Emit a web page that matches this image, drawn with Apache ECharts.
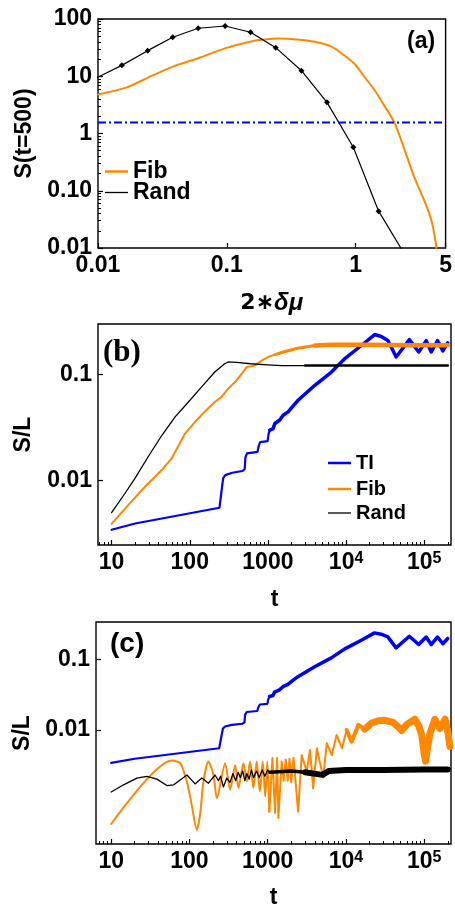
<!DOCTYPE html>
<html>
<head>
<meta charset="utf-8">
<style>
  html, body { margin: 0; padding: 0; background: #fff; }
  #chart { width: 455px; height: 910px; }
</style>
<script src="https://cdn.jsdelivr.net/npm/echarts@6.0.0/dist/echarts.min.js"></script>
</head>
<body>
<div id="chart"></div>
<script>
// ---- panel (a): S(t=500) vs 2*delta mu ----
const muTicks = [0.01, 0.1, 1, 5];
const muTickLabels = ['0.01', '0.1', '1', '5'];
const sTicks = [0.01, 0.1, 1, 10, 100];
const sTickLabels = ['0.01', '0.10', '1', '10', '100'];
const tiThreshold = 1.55;
const fibA = [[0.01, 4.8], [0.0167, 6.4], [0.0238, 9.2], [0.0382, 14.7], [0.0612, 21], [0.098, 31], [0.157, 41],
  [0.2, 44], [0.252, 45.5], [0.35, 44], [0.484, 40], [0.65, 33], [0.82, 23], [1.0, 15.7], [1.17, 9.8], [1.4, 5.8],
  [1.57, 3.86], [2.0, 1.55], [2.38, 0.55], [2.84, 0.178], [3.49, 0.06], [3.93, 0.027], [4.25, 0.01]];
const randA = [[0.0096, 9.2], [0.0153, 15.5], [0.0243, 28], [0.038, 48], [0.06, 69], [0.097, 75.5], [0.153, 58.6],
  [0.24, 31.6], [0.38, 12.5], [0.6, 3.5], [0.96, 0.575], [1.51, 0.044], [2.4, 0.0078]];

// ---- panels (b), (c): S/L vs t ----
const tTicks = [10, 100, 1000, 1e4, 1e5];
const tTickLabels = ['10', '100', '1000', '10{sup|4}', '10{sup|5}'];
const slTicks = [0.01, 0.1];
const slTickLabels = ['0.01', '0.1'];

// TI is the same curve in (b) and (c)
const tiData = [[10, 0.0034], [20, 0.0039], [240, 0.0055], [250, 0.0056], [258, 0.0085], [268, 0.0105], [285, 0.0112],
  [350, 0.0118], [473, 0.01225], [505, 0.0128], [515, 0.0165], [540, 0.018], [736, 0.0186], [760, 0.021], [795, 0.023],
  [990, 0.0235], [1020, 0.0275], [1057, 0.0299], [1167, 0.0309], [1225, 0.0345], [1418, 0.0372], [1566, 0.0413],
  [1813, 0.0445], [2000, 0.0485], [2432, 0.0573], [3980, 0.0794], [6500, 0.106], [9550, 0.141], [15700, 0.189],
  [23200, 0.24], [28200, 0.23], [34300, 0.211], [43700, 0.147], [64600, 0.215], [85000, 0.164], [106000, 0.21],
  [123000, 0.164], [148000, 0.21], [173000, 0.168], [200000, 0.2]];

const fibB = [[10, 0.00387], [16.4, 0.00585], [26.8, 0.0087], [43.8, 0.0125], [58.6, 0.0161], [87, 0.0277], [117, 0.0358],
  [155, 0.0445], [209, 0.0552], [255, 0.0616], [310, 0.0738], [380, 0.0852], [460, 0.102], [535, 0.118], [620, 0.12],
  [680, 0.122], [830, 0.136], [1000, 0.147], [1230, 0.155], [1620, 0.165], [2400, 0.178], [3980, 0.189],
  [6500, 0.192], [20000, 0.192], [60000, 0.19], [200000, 0.19]];
const randB = [[10, 0.00495], [14.8, 0.0075], [20, 0.0105], [29.5, 0.0168], [44, 0.0267], [65, 0.0399], [96, 0.0552],
  [142, 0.0766], [209, 0.106], [280, 0.127], [310, 0.132], [400, 0.131], [600, 0.127], [1000, 0.124], [1500, 0.122],
  [3000, 0.122], [20000, 0.122], [200000, 0.122]];

const fibC = [[10, 0.00046], [59.5, 0.00367], [76, 0.0034], [92.7, 0.00185], [107, 0.00086], [124, 0.00038], [137, 0.00063],
  [151, 0.00185], [175, 0.00355], [203, 0.00229], [224, 0.00107], [286, 0.00337], [331, 0.00141], [384, 0.00316],
  [423, 0.0015], [490, 0.00337], [540, 0.00185], [596, 0.00355], [656, 0.0015], [724, 0.00355], [795, 0.00133],
  [864, 0.00355], [930, 0.00113], [990, 0.00355], [1050, 0.00069], [1150, 0.004], [1240, 0.00066], [1320, 0.004],
  [1370, 0.00056], [1510, 0.00355], [1600, 0.0019], [1700, 0.0038], [1800, 0.0019], [1900, 0.0039], [2000, 0.0018],
  [2140, 0.004], [2450, 0.00069], [2720, 0.0044], [3150, 0.00256], [3470, 0.0052], [3810, 0.00148], [4250, 0.0055],
  [5130, 0.0021], [5690, 0.0065], [6600, 0.0044], [7600, 0.0085], [8900, 0.0055], [10200, 0.01], [11800, 0.0068],
  [14400, 0.0118], [17400, 0.0103], [21200, 0.0125], [26000, 0.0135], [31600, 0.0137], [40000, 0.0128],
  [47000, 0.011], [51600, 0.0098], [60000, 0.012], [76000, 0.0142], [85000, 0.0115], [93000, 0.0085],
  [100000, 0.0045], [104000, 0.0036], [110000, 0.0055], [118000, 0.0088], [137000, 0.0142], [158000, 0.0105],
  [185000, 0.0142], [200000, 0.0095], [213000, 0.0058]];
const randC = [[10, 0.00131], [14.4, 0.00166], [21.3, 0.00207], [28.6, 0.00219], [38.4, 0.002], [51.5, 0.00162],
  [63, 0.00166], [93, 0.00229], [118, 0.00171], [144, 0.00207], [175, 0.00175], [212, 0.00229], [235, 0.0019],
  [250, 0.0022], [272, 0.00155], [300, 0.00207], [330, 0.0018], [360, 0.0024], [390, 0.0019], [420, 0.0025],
  [446, 0.0021], [480, 0.0026], [510, 0.0019], [540, 0.0024], [580, 0.002], [620, 0.0027], [660, 0.0021],
  [720, 0.0026], [780, 0.0021], [850, 0.0027], [920, 0.0022], [1000, 0.0027], [1070, 0.0025], [2000, 0.0026],
  [3000, 0.0025], [5000, 0.0023], [6000, 0.0026], [10000, 0.0027], [30000, 0.0027], [100000, 0.00275], [200000, 0.00275]];

const FONT = 'Liberation Sans';
const ORANGE = '#ff8800';
const BLUE = '#0000ff';

// 2..9 x 10^k between lo and hi, for the small log ticks
function minorTicks(lo, hi) {
  const out = [];
  for (let e = Math.floor(Math.log10(lo)); e <= Math.ceil(Math.log10(hi)); e++) {
    for (let m = 2; m <= 9; m++) {
      const v = +(m * Math.pow(10, e)).toPrecision(6);
      if (v > lo && v < hi) out.push(v);
    }
  }
  return out;
}
const upTo = (arr, t) => arr.filter(p => p[0] <= t);
const between = (arr, a, b) => arr.filter(p => p[0] >= a && p[0] <= b);
const from = (arr, t) => arr.filter(p => p[0] >= t);

const labelStyle = { fontFamily: FONT, fontWeight: 'bold', fontSize: 23, color: '#000' };
const nameStyle = { fontFamily: FONT, fontWeight: 'bold', fontSize: 23, color: '#000' };

function lookup(ticks, labels) {
  return v => {
    const i = ticks.findIndex(t => Math.abs(Math.log10(t) - Math.log10(v)) < 1e-6);
    return i < 0 ? '' : labels[i];
  };
}

function mainAxis(grid, min, max, ticks, labels, extra) {
  return Object.assign({
    type: 'log', logBase: 10, gridIndex: grid, min: min, max: max,
    axisLine: { show: false },
    splitLine: { show: false },
    axisTick: { inside: true, length: 5, customValues: ticks, lineStyle: { color: '#000', width: 1.2 } },
    axisLabel: Object.assign({ customValues: ticks, formatter: lookup(ticks, labels), margin: 6,
      rich: { sup: { fontFamily: FONT, fontWeight: 'bold', fontSize: 16, color: '#000', verticalAlign: 'top' } } }, labelStyle),
    nameLocation: 'middle',
    nameTextStyle: nameStyle
  }, extra || {});
}
function minorAxis(grid, min, max, pos) {
  return {
    type: 'log', logBase: 10, gridIndex: grid, min: min, max: max, position: pos,
    axisLine: { show: false }, splitLine: { show: false }, axisLabel: { show: false },
    axisTick: { inside: true, length: 3, customValues: minorTicks(min, max), lineStyle: { color: '#000', width: 1 } }
  };
}

function line(name, data, xi, yi, color, width, extra) {
  return Object.assign({
    name: name, type: 'line', data: data, xAxisIndex: xi, yAxisIndex: yi, color: color,
    symbol: 'none', showSymbol: false, clip: true, silent: true,
    lineStyle: { color: color, width: width, cap: 'round', join: 'round' }
  }, extra || {});
}

function legendItem(name, left, top, h, size, lh) {
  return {
    data: [name], left: left, top: top, padding: 0, itemWidth: 23, itemHeight: h, icon: 'rect',
    selectedMode: false,
    textStyle: { fontFamily: FONT, fontWeight: 'bold', fontSize: size, color: '#000', lineHeight: lh }
  };
}

const tMin = [6.7, 6.4], tMax = 2.2e5;

const chart = echarts.init(document.getElementById('chart'), null, { renderer: 'canvas' });
chart.setOption({
  animation: false,
  backgroundColor: '#fff',
  grid: [
    { left: 98, top: 19, width: 351, height: 229, show: true, borderColor: '#000', borderWidth: 1.4 },
    { left: 98, top: 324, width: 353, height: 221, show: true, borderColor: '#000', borderWidth: 1.4 },
    { left: 96, top: 622, width: 355, height: 222, show: true, borderColor: '#000', borderWidth: 1.4 }
  ],
  title: [
    { text: '(a)', left: 407, top: 30, padding: 0, textStyle: { fontFamily: FONT, fontWeight: 'bold', fontSize: 23, color: '#000' } },
    { text: '(b)', left: 103, top: 337, padding: 0, textStyle: { fontFamily: 'Liberation Serif', fontWeight: 'bold', fontSize: 31, color: '#000' } },
    { text: '(c)', left: 110, top: 630, padding: 0, textStyle: { fontFamily: FONT, fontWeight: 'bold', fontSize: 28, color: '#000' } }
  ],
  legend: [
    legendItem('Fib', 105, 160, 2.5, 23, 22),
    legendItem('Rand', 105, 181, 1.3, 23, 22),
    legendItem('TI', 328, 452, 2.5, 20, 22),
    legendItem('Fib', 328, 478, 2.5, 20, 22),
    legendItem('Rand', 328, 502, 1.3, 20, 22)
  ],
  xAxis: [
    mainAxis(0, 0.01, 5, muTicks, muTickLabels, {
      name: '{n|2\u2217}{i|\u03b4\u03bc}', nameGap: 43,
      nameTextStyle: Object.assign({}, nameStyle, { rich: {
        n: { fontFamily: 'DejaVu Sans', fontWeight: 'bold', fontSize: 22, color: '#000' },
        i: { fontFamily: FONT, fontWeight: 'bold', fontStyle: 'italic', fontSize: 24, color: '#000' } } })
    }),
    mainAxis(1, tMin[0], tMax, tTicks, tTickLabels, { name: 't', nameGap: 43 }),
    mainAxis(2, tMin[1], tMax, tTicks, tTickLabels, { name: 't', nameGap: 42 }),
    minorAxis(1, tMin[0], tMax, 'bottom'),
    minorAxis(2, tMin[1], tMax, 'bottom')
  ],
  yAxis: [
    mainAxis(0, 0.01, 100, sTicks, sTickLabels, { name: 'S(t=500)', nameGap: 62 }),
    mainAxis(1, 0.00244, 0.302, slTicks, slTickLabels, { name: 'S/L', nameGap: 63 }),
    mainAxis(2, 0.000239, 0.343, slTicks, slTickLabels, { name: 'S/L', nameGap: 61 }),
    minorAxis(0, 0.01, 100, 'left')
  ],
  series: [
    // (a)
    line('Fib', fibA, 0, 0, ORANGE, 2, { smooth: 0.3 }),
    line('Rand', randA, 0, 0, '#000', 1.2, { symbol: 'diamond', symbolSize: 6, showSymbol: true }),
    line('threshold', [[0.01, tiThreshold], [5, tiThreshold]], 0, 0, BLUE, 2,
      { lineStyle: { color: BLUE, width: 2, type: [8, 3, 2, 3] } }),
    // (b)
    line('TI', upTo(tiData, 1057), 1, 1, BLUE, 2.2),
    line('TI', from(tiData, 1057), 1, 1, BLUE, 3.5),
    line('Fib', upTo(fibB, 1230), 1, 1, ORANGE, 2),
    line('Fib', between(fibB, 1230, 3980), 1, 1, ORANGE, 3),
    line('Fib', from(fibB, 3980), 1, 1, ORANGE, 4.5),
    line('Rand', upTo(randB, 3000), 1, 1, '#000', 1.3),
    line('Rand', from(randB, 3000), 1, 1, '#000', 2.5),
    // (c)
    line('TI', upTo(tiData, 1057), 2, 2, BLUE, 2.2),
    line('TI', from(tiData, 1057), 2, 2, BLUE, 3.5),
    line('Fib', upTo(fibC, 1050), 2, 2, ORANGE, 2, { smooth: 0.25 }),
    line('Fib', between(fibC, 1050, 10200), 2, 2, ORANGE, 2),
    line('Fib', between(fibC, 10200, 17400), 2, 2, ORANGE, 4),
    line('Fib', from(fibC, 17400), 2, 2, ORANGE, 7),
    line('Rand', upTo(randC, 1070), 2, 2, '#000', 1.3),
    line('Rand', between(randC, 1070, 3000), 2, 2, '#000', 3.5),
    line('Rand', from(randC, 3000), 2, 2, '#000', 6)
  ]
});
</script>
</body>
</html>
